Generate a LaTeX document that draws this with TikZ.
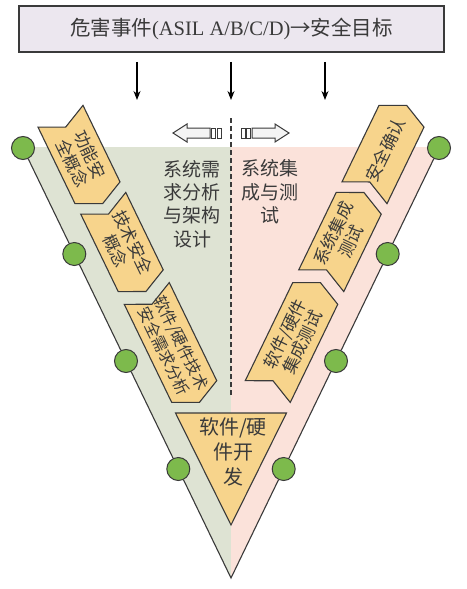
\documentclass[tikz,border=0pt]{standalone}
\usepackage{fontspec}
\setmainfont{Liberation Serif}
\newfontfamily\cjk{Noto Sans CJK SC}
\usetikzlibrary{calc,arrows.meta}
\definecolor{boxfill}{HTML}{F7D48C}
\definecolor{sage}{HTML}{DEE3D3}
\definecolor{blush}{HTML}{FBE2DA}
\definecolor{dotgreen}{HTML}{7DBA4C}
\definecolor{ink}{HTML}{3A3A3A}
\definecolor{headfill}{HTML}{ECE7EF}
\definecolor{hollow}{HTML}{F4F4F4}
\newcommand\mychev[7]{%
  \begin{scope}[shift={(#1,#2)},rotate=#3]
    \draw[chevsty] ({-#4/2},25) -- ({#4/2},25) -- ({#4/2+12},0) -- ({#4/2},-25)
      -- ({-#4/2},-25) -- ({-#4/2+12},0) -- cycle;
    \node[boxtxt,font=\cjk\fontsize{#7}{19.5}\selectfont,rotate=#3] (#5) at (5,0) {#6};
  \end{scope}}
\begin{document}
\begin{tikzpicture}[x=1pt,y=-1pt,
  chevsty/.style={draw=ink,line width=1.1pt,fill=boxfill,line join=miter},
  boxtxt/.style={align=center,text=ink,inner sep=0pt},
  midtxt/.style={font=\cjk\fontsize{19}{23.3}\selectfont,align=center,text=ink,inner sep=0pt},
  dot/.style={circle,draw=ink,line width=1pt,fill=dotgreen,minimum size=23pt,inner sep=0pt},
  armline/.style={draw=ink,line width=1.1pt},
  downarr/.style={draw=black,line width=1.1pt,-{Stealth[length=9pt,width=7pt]}},
  hollowarr/.style={draw=ink,line width=1pt,fill=hollow,line join=miter},
  midline/.style={draw=ink,line width=1.2pt,dash pattern=on 5pt off 3pt}]
\useasboundingbox (0,0) rectangle (466,589);
\fill[white] (0,0) rectangle (466,589);

% shaded V
\fill[sage] (22.5,147) -- (231,147) -- (231,578) -- cycle;
\fill[blush] (231,147) -- (439.5,147) -- (231,578) -- cycle;

% goal box
\node[draw=ink,line width=1.6pt,fill=headfill,minimum width=425pt,minimum height=46pt,
      inner sep=0pt,text=ink,font=\fontsize{20.5}{24}\selectfont] (goal) at (231.5,29)
  {{\cjk 危害事件}(ASIL A/B/C/D){\cjk →安全目标}};

% down arrows
\coordinate (a1) at (137,100);
\coordinate (a2) at (231,100);
\coordinate (a3) at (325,100);
\foreach \a in {a1,a2,a3}
  \draw[downarr] ($(goal.south -| \a)+(0,9)$) -- (\a);

% dashed divider
\coordinate (dtop) at (231,118);
\coordinate (dbot) at (231,395);
\draw[midline] (dtop) -- (dbot);

% hollow double arrows
\draw[hollowarr] (173,133) -- (187,124) -- (187,128) -- (210,128) -- (210,138)
  -- (187,138) -- (187,142) -- cycle;
\draw[hollowarr,fill=white] (211.5,128) rectangle (215.5,138);
\draw[hollowarr,fill=white] (217,128) rectangle (221,138);
\draw[hollowarr] (289,133) -- (275,124) -- (275,128) -- (252,128) -- (252,138)
  -- (275,138) -- (275,142) -- cycle;
\draw[hollowarr,fill=white] (246.5,128) rectangle (250.5,138);
\draw[hollowarr,fill=white] (241,128) rectangle (245,138);

% middle texts
\node[midtxt] (lefttxt) at (192,204) {系统需\\求分析\\与架构\\设计};
\node[midtxt] (righttxt) at (270,192) {系统集\\成与测\\试};

% arm lines and dots
\coordinate (apex) at (231,578);
\node[dot] (l1) at (23,148) {};
\node[dot] (l2) at (74.3,254) {};
\node[dot] (l3) at (126,361) {};
\node[dot] (l4) at (178.3,469) {};
\node[dot] (r1) at (439,148) {};
\node[dot] (r2) at (387.7,254) {};
\node[dot] (r3) at (336,361) {};
\node[dot] (r4) at (283.7,469) {};
\draw[armline] (l1) -- (l2) -- (l3) -- (l4) -- (apex) -- (r4) -- (r3) -- (r2) -- (r1);

% chevrons
\mychev{79}{154.5}{-64.18}{85}{fsc}{功能安\\全概念}{17}
\mychev{122}{242}{-64.18}{86}{tsc}{技术安全\\概念}{17}
\mychev{170.5}{342.5}{-64.18}{109}{hsr}{软件/硬件技术\\安全需求分析}{16}
\mychev{383}{154.5}{64.18}{85}{sv}{安全确认}{17}
\mychev{340}{242}{64.18}{86}{sit}{系统集成\\测试}{17}
\mychev{291.5}{342.5}{64.18}{109}{hit}{软件/硬件\\集成测试}{17}

% development triangle
\draw[chevsty] (175.5,413) -- (286.5,413) -- (231,525) -- cycle;
\node[font=\cjk\fontsize{20}{25}\selectfont,align=center,text=ink,inner sep=0pt] (dev)
  at (233,452) {软件/硬\\件开\\发};
\end{tikzpicture}
\end{document}
